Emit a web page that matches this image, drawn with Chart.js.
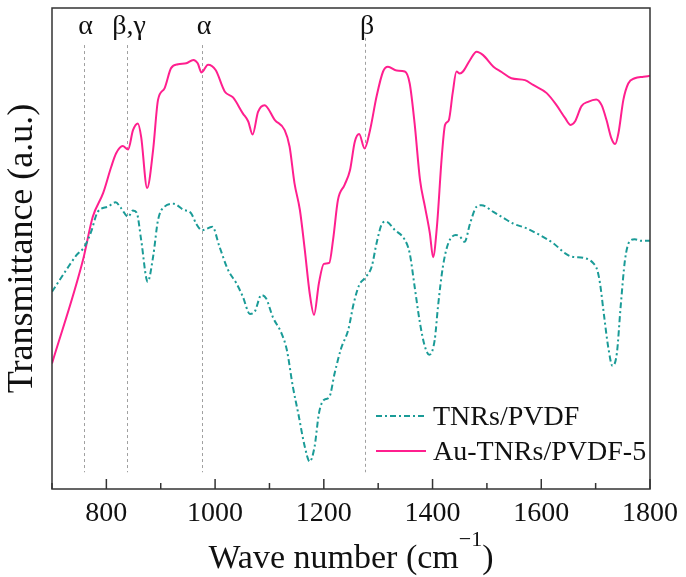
<!DOCTYPE html>
<html>
<head>
<meta charset="utf-8">
<script src="https://cdn.jsdelivr.net/npm/chart.js@4.4.0/dist/chart.umd.min.js"></script>
<style>
    html, body { margin: 0; padding: 0; background: #fff; }
    #wrap { width: 686px; height: 577px; }
</style>
</head>
<body>
<div id="wrap"><canvas id="ftirChart" width="686" height="577"></canvas></div>
<script>
/* ====================================================
   ESPECTRO FTIR - TNRs/PVDF x Au-TNRs/PVDF-5
   ==================================================== */

// Série Au-TNRs/PVDF-5 (linha contínua rosa)
const numOndaAu = [700, 757, 775, 794, 809, 818, 830, 840, 849, 858, 864, 875, 886, 895, 907, 919, 932, 947, 960, 968,
    975, 987, 1001, 1018, 1033, 1051, 1061, 1069, 1079, 1091, 1110, 1128, 1137, 1146, 1156, 1165, 1174, 1182, 1191, 1200,
    1210, 1217, 1226, 1238, 1248, 1257, 1265, 1275, 1285, 1297, 1309, 1318, 1334, 1349, 1358, 1367, 1377, 1386, 1395, 1401,
    1408, 1417, 1423, 1430, 1437, 1444, 1450, 1456, 1469, 1481, 1493, 1512, 1527, 1545, 1570, 1585, 1610, 1628, 1644, 1654,
    1662, 1674, 1686, 1701, 1711, 1720, 1729, 1736, 1742, 1751, 1760, 1772, 1788, 1800];
const transAu = [26.1, 47.6, 56.6, 61.5, 67, 69.8, 71.3, 70.6, 74.6, 76, 73.2, 62.6, 70.5, 80.9, 83.3, 87.5, 88.3, 88.5, 89.2, 88.5,
    86.6, 88.2, 87.1, 82.6, 81.4, 78.1, 76.4, 73.7, 78.4, 79.8, 76.7, 74.6, 71.2, 63.6, 58, 49.7, 40.7, 36.2, 42.8, 46.8,
    47, 51.8, 60.1, 63.2, 66.2, 72.2, 73.8, 70.8, 74.6, 81.6, 86.8, 87.8, 87, 86.8, 84.3, 76, 64.2, 58.7, 53.2, 48.2,
    54.5, 69.1, 75.7, 76.7, 82.3, 86.8, 86.4, 86.8, 89.2, 90.9, 90.2, 87.8, 86.7, 85.4, 85, 84, 82.3, 79.8, 77.1, 75.7,
    76.4, 79.6, 80.5, 81, 79.8, 76.7, 72.9, 71.7, 74, 80.9, 84.3, 85.4, 85.7, 85.9];

// Série TNRs/PVDF (traço-ponto verde-azulado)
const numOndaTnr = [700, 726, 745, 760, 772, 784, 803, 817, 827, 840, 849, 856, 864, 876, 886, 895, 907, 924, 941, 956,
    965, 976, 995, 1008, 1024, 1039, 1051, 1064, 1073, 1085, 1094, 1106, 1122, 1132, 1143, 1153, 1165, 1174, 1183, 1191,
    1200, 1210, 1220, 1232, 1245, 1255, 1265, 1275, 1288, 1297, 1306, 1314, 1331, 1349, 1358, 1367, 1377, 1386, 1394, 1404,
    1410, 1419, 1429, 1443, 1450, 1459, 1469, 1481, 1490, 1512, 1530, 1548, 1573, 1597, 1622, 1644, 1656, 1680, 1696, 1703,
    1708, 1715, 1723, 1731, 1739, 1746, 1754, 1762, 1772, 1784, 1800];
const transTnr = [41, 45.5, 48.6, 50.4, 53.5, 57.6, 58.7, 59.6, 58.4, 56.6, 57.9, 57.4, 51.8, 43.1, 48.3, 55.9, 58.7, 59.3, 58.1, 57.3,
    55.2, 53.8, 54.5, 50.4, 45.5, 42.8, 40, 36.4, 36.9, 40.3, 39.6, 35.8, 32.4, 28.9, 21.3, 15.7, 8.8, 5.7, 8.8, 15.7,
    18.5, 19.1, 24.1, 29.3, 33.1, 38.6, 42.4, 43.8, 46.2, 51.1, 54.9, 55.6, 53.8, 51.8, 49, 42.1, 34.4, 29.6, 27.9, 31,
    37.9, 46.2, 51.1, 52.8, 52.5, 51.4, 55.2, 58.7, 59, 57.6, 56.4, 55.2, 54.2, 52.8, 51.1, 49, 48.3, 48, 46.9, 45.5,
    42.8, 36.5, 29.6, 25.6, 28.2, 37.9, 47.6, 51.4, 51.9, 51.6, 51.6];

// Bandas marcadas (cm-1) e seus rótulos de fase
const bandas = [758, 838, 976, 1276];
const rotulosBandas = ['α', 'β,γ', 'α', 'β'];

const nomesSeries = ['TNRs/PVDF', 'Au-TNRs/PVDF-5'];
const rotulosX = [800, 1000, 1200, 1400, 1600, 1800];

const COR_ROSA = '#ff1f8e';
const COR_TEAL = '#1a9b97';
const COR_EIXO = '#333333';
const FONTE = "'Liberation Serif', 'Times New Roman', serif";

function pares(xs, ys) {
    return xs.map((x, i) => ({ x: x, y: ys[i] }));
}

// ====================================================
// PLUGIN: moldura, ticks internos, bandas, títulos e legenda
// ====================================================
const decoracao = {
    id: 'decoracao',
    beforeDatasetsDraw(chart) {
        const { ctx, scales: { x, y } } = chart;
        ctx.save();
        ctx.strokeStyle = '#a0a0a0';
        ctx.lineWidth = 1;
        ctx.setLineDash([3, 3]);
        bandas.forEach((b, i) => {
            const px = Math.round(x.getPixelForValue(b)) + 0.5;
            const topo = i === 3 ? 93.8 : 92.3;
            ctx.beginPath();
            ctx.moveTo(px, y.getPixelForValue(topo));
            ctx.lineTo(px, y.getPixelForValue(3.5));
            ctx.stroke();
        });
        ctx.restore();
    },
    afterDraw(chart) {
        const { ctx, chartArea: a, scales: { x } } = chart;
        ctx.save();

        // moldura
        ctx.strokeStyle = COR_EIXO;
        ctx.lineWidth = 1.5;
        ctx.strokeRect(a.left, a.top, a.right - a.left, a.bottom - a.top);

        // ticks voltados para dentro
        ctx.lineWidth = 1.5;
        x.ticks.forEach(t => {
            const px = x.getPixelForValue(t.value);
            const len = rotulosX.includes(t.value) ? 10 : 6;
            ctx.beginPath();
            ctx.moveTo(px, a.bottom);
            ctx.lineTo(px, a.bottom - len);
            ctx.stroke();
        });

        // rótulos das bandas
        ctx.fillStyle = '#111';
        ctx.font = '28px ' + FONTE;
        ctx.textAlign = 'center';
        ctx.textBaseline = 'alphabetic';
        bandas.forEach((b, i) => {
            ctx.fillText(rotulosBandas[i], x.getPixelForValue(b) + 2, a.top + 26);
        });

        // título do eixo Y
        ctx.save();
        ctx.translate(32, (a.top + a.bottom) / 2);
        ctx.rotate(-Math.PI / 2);
        ctx.font = '36px ' + FONTE;
        ctx.textAlign = 'center';
        ctx.fillText('Transmittance (a.u.)', 0, 0);
        ctx.restore();

        // título do eixo X com expoente
        const base = 'Wave number (cm';
        const expo = '\u22121';
        ctx.textAlign = 'left';
        ctx.font = '34px ' + FONTE;
        const wBase = ctx.measureText(base).width;
        const wFecha = ctx.measureText(')').width;
        ctx.font = '22px ' + FONTE;
        const wExpo = ctx.measureText(expo).width;
        const total = wBase + wExpo + wFecha;
        let cx = (a.left + a.right) / 2 - total / 2;
        const by = a.bottom + 79;
        ctx.font = '34px ' + FONTE;
        ctx.fillText(base, cx, by);
        cx += wBase;
        ctx.font = '22px ' + FONTE;
        ctx.fillText(expo, cx, by - 22);
        cx += wExpo;
        ctx.font = '34px ' + FONTE;
        ctx.fillText(')', cx, by);

        // legenda
        ctx.font = '28px ' + FONTE;
        chart.data.datasets.forEach((ds, i) => {
            const ly = a.bottom - 73 + i * 35;
            ctx.strokeStyle = ds.borderColor;
            ctx.lineWidth = 2;
            ctx.setLineDash(ds.borderDash || []);
            ctx.beginPath();
            ctx.moveTo(a.right - 274, ly);
            ctx.lineTo(a.right - 224, ly);
            ctx.stroke();
            ctx.setLineDash([]);
            ctx.fillStyle = '#111';
            ctx.fillText(ds.label, a.right - 217, ly + 9);
        });

        ctx.restore();
    }
};

// ====================================================
// GRÁFICO
// ====================================================
const ctx = document.getElementById('ftirChart').getContext('2d');
new Chart(ctx, {
    type: 'line',
    data: {
        datasets: [
            {
                label: nomesSeries[0],
                data: pares(numOndaTnr, transTnr),
                borderColor: COR_TEAL,
                borderWidth: 2,
                borderDash: [6, 3, 2, 3],
                pointRadius: 0,
                tension: 0.35,
                cubicInterpolationMode: 'monotone'
            },
            {
                label: nomesSeries[1],
                data: pares(numOndaAu, transAu),
                borderColor: COR_ROSA,
                borderWidth: 2,
                pointRadius: 0,
                tension: 0.35,
                cubicInterpolationMode: 'monotone'
            }
        ]
    },
    options: {
        responsive: false,
        animation: false,
        layout: { padding: { left: 52, top: 8, right: 36, bottom: 0 } },
        plugins: {
            legend: { display: false },
            tooltip: { enabled: false }
        },
        scales: {
            x: {
                type: 'linear',
                min: 700,
                max: 1800,
                grid: { display: false, drawTicks: false },
                border: { display: false },
                ticks: {
                    stepSize: 100,
                    autoSkip: false,
                    maxRotation: 0,
                    padding: 8,
                    color: '#111',
                    font: { family: FONTE, size: 28 },
                    callback: v => rotulosX.includes(v) ? String(v) : ''
                },
                afterFit: s => { s.height = 88; }
            },
            y: {
                display: false,
                min: 0,
                max: 100
            }
        }
    },
    plugins: [decoracao]
});
</script>
</body>
</html>
